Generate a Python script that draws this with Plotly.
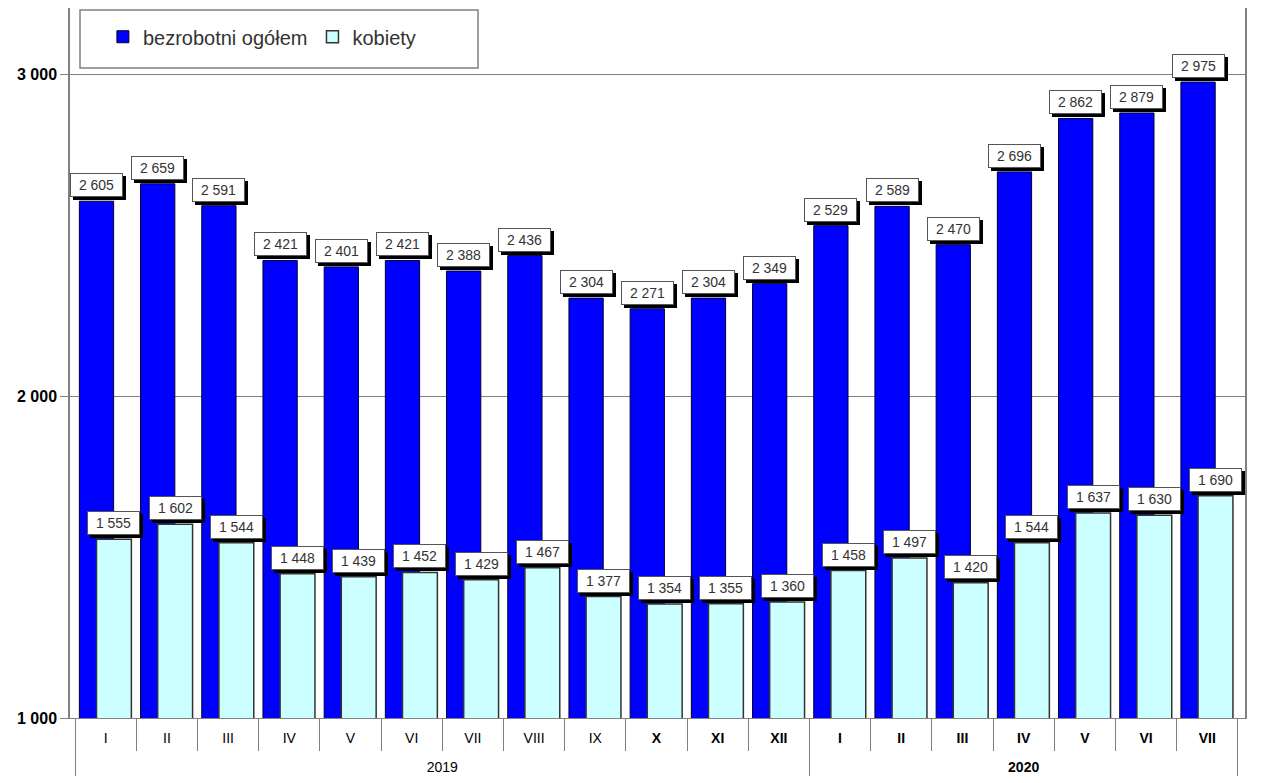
import plotly.graph_objects as go

years = ["<br>2019"] * 12 + ["<br><b>2020</b>"] * 7
months = ["I", "II", "III", "IV", "V", "VI", "VII", "VIII", "IX", "<b>X</b>", "<b>XI</b>", "<b>XII</b>",
          "<b>I</b>", "<b>II</b>", "<b>III</b>", "<b>IV</b>", "<b>V</b>", "<b>VI</b>", "<b>VII</b>"]
ogolem = [2605, 2659, 2591, 2421, 2401, 2421, 2388, 2436, 2304, 2271, 2304, 2349,
          2529, 2589, 2470, 2696, 2862, 2879, 2975]
kobiety = [1555, 1602, 1544, 1448, 1439, 1452, 1429, 1467, 1377, 1354, 1355, 1360,
           1458, 1497, 1420, 1544, 1637, 1630, 1690]

FONT = "Arial, Liberation Sans, sans-serif"
BW, BO = 0.56, -0.43
KW, KO = 0.57, -0.15

def fmt(v):
    return f"{v:,}".replace(",", " ")

fig = go.Figure()
fig.add_trace(go.Bar(x=[years, months], y=ogolem, name="bezrobotni ogółem",
                     marker=dict(color="#0000FF", line=dict(color="#000033", width=1)),
                     width=BW, offset=BO))
fig.add_trace(go.Bar(x=[years, months], y=kobiety, name="kobiety",
                     marker=dict(color="#CCFFFF", line=dict(color="#333333", width=1.5)),
                     width=KW, offset=KO))

BOXW, BOXH = 47, 18
ann = []
for series, off, w in [(ogolem, BO, BW), (kobiety, KO, KW)]:
    for i, v in enumerate(series):
        xc = i + off + w / 2
        ann.append(dict(x=xc, y=v, xref="x", yref="y", text=" ", showarrow=False,
                        yanchor="bottom", xshift=3, yshift=1, width=BOXW, height=BOXH,
                        font=dict(family=FONT, size=14, color="#000000"),
                        bgcolor="#000000", bordercolor="#000000", borderwidth=1, borderpad=2))
        ann.append(dict(x=xc, y=v, xref="x", yref="y", text=fmt(v), showarrow=False,
                        yanchor="bottom", xshift=0, yshift=4, width=BOXW, height=BOXH,
                        font=dict(family=FONT, size=14, color="#333333"),
                        bgcolor="#FFFFFF", bordercolor="#555555", borderwidth=1, borderpad=2))

fig.update_layout(
    width=1253, height=775,
    margin=dict(l=62, r=16, t=0, b=65, autoexpand=False),
    paper_bgcolor="white", plot_bgcolor="white",
    barmode="overlay",
    font=dict(family=FONT, size=14, color="#000000"),
    showlegend=True,
    legend=dict(orientation="h", x=0.028, y=0.987, xanchor="left", yanchor="top",
                bgcolor="rgba(0,0,0,0)", borderwidth=0,
                font=dict(family=FONT, size=20, color="#333333"),
                itemwidth=30, traceorder="normal"),
    annotations=ann,
    shapes=[dict(type="rect", xref="paper", yref="paper",
                 x0=10 / 1175, x1=408 / 1175, y0=1 - 60 / 710, y1=1 - 2 / 710,
                 line=dict(color="#808080", width=1.5), fillcolor="white", layer="below")],
)
fig.update_xaxes(type="multicategory", showline=True, linecolor="#808080", linewidth=1,
                 mirror=True, ticks="outside", tickson="boundaries", ticklen=32,
                 tickcolor="#808080", dividercolor="#808080", dividerwidth=1,
                 ticklabelstandoff=7, automargin=False,
                 showgrid=False, tickfont=dict(family=FONT, size=14, color="#000000"))
fig.update_yaxes(range=[1000, 3205], tickvals=[1000, 2000, 3000],
                 ticktext=["<b>1 000</b>", "<b>2 000</b>", "<b>3 000</b>"],
                 showgrid=True, gridcolor="#808080", gridwidth=1,
                 showline=True, linecolor="#808080", linewidth=1.5, mirror=True,
                 ticks="outside", ticklen=8, tickcolor="#808080", zeroline=False,
                 automargin=False,
                 tickfont=dict(family=FONT, size=16, color="#000000"))

fig.write_html("out.html")
